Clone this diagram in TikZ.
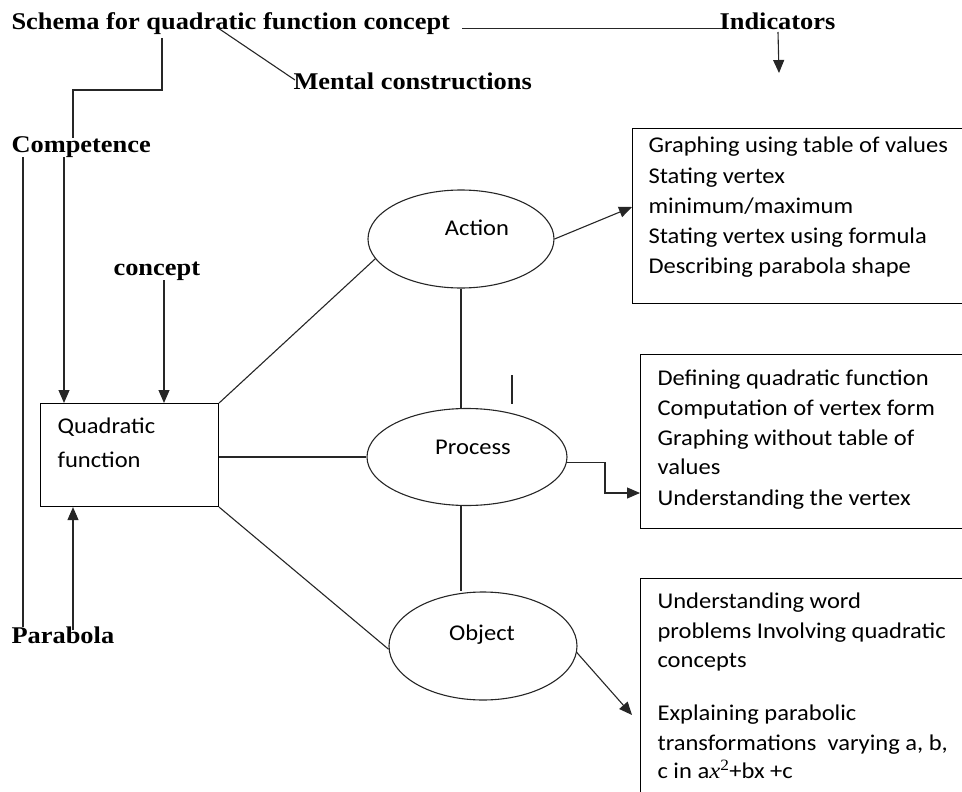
\documentclass[tikz,border=0pt]{standalone}
\usepackage{fontspec}
\newfontfamily\bodyfont{Carlito}[FakeStretch=1.09]
\newfontfamily\headfont{Liberation Serif}[FakeStretch=1.1]
\usetikzlibrary{arrows.meta,shapes.geometric,calc}
\begin{document}
\begin{tikzpicture}[x=1pt,y=-1pt,
  line width=1.1pt, draw=black!85,
  arr/.style={-{Triangle[length=13pt,width=11pt]}},
  head/.style={font=\headfont\bfseries\fontsize{24}{28}\selectfont, inner sep=0pt, anchor=base west},
  body/.style={font=\bodyfont\fontsize{22.5}{30}\selectfont, inner sep=0pt, anchor=base west},
  oval/.style={ellipse, draw, inner sep=0pt},
  rbox/.style={rectangle, draw=black, anchor=north west, inner sep=0pt}]
\useasboundingbox (0,0) rectangle (962,792);
\clip (0,0) rectangle (962,792);

% headings
\node[head] (title) at (11,29.5) {Schema for quadratic function concept};
\node[head] (ind) at (719,30) {Indicators};
\node[head] (mental) at (293,89) {Mental constructions};
\node[head] (comp) at (11,152) {Competence};
\node[head] (concept) at (113,275) {concept};
\node[head] (parab) at (11,643) {Parabola};

% central box
\node[rbox, minimum width=178pt, minimum height=103pt] (qf) at (40,403) {};
\node[body] (qf1) at (57,433) {Quadratic};
\node[body] (qf2) at (57,467) {function};

% ellipses
\node[oval, minimum width=186pt, minimum height=98pt] (action) at (461,239) {};
\node[oval, minimum width=200pt, minimum height=97pt] (process) at (467,457) {};
\node[oval, minimum width=188pt, minimum height=108pt] (object) at (483,646) {};
\node[body, anchor=base] (actiont) at (477,235) {Action};
\node[body, anchor=base] (processt) at (473,454) {Process};
\node[body, anchor=base] (objectt) at (482,640) {Object};

% indicator boxes
\node[rbox, minimum width=350pt, minimum height=175pt] (box1) at (632,128) {};
\node[rbox, minimum width=340pt, minimum height=174pt] (box2) at (640,354) {};
\node[rbox, minimum width=340pt, minimum height=240pt] (box3) at (640,578) {};

\node[body] (b11) at (648,153) {Graphing using table of values};
\node[body] (b12) at (648,183) {Stating vertex};
\node[body] (b13) at (648,213) {minimum/maximum};
\node[body] (b14) at (648,243) {Stating vertex using formula};
\node[body] (b15) at (648,273) {Describing parabola shape};

\node[body] (b21) at (657,385) {Defining quadratic function};
\node[body] (b22) at (657,415) {Computation of vertex form};
\node[body] (b23) at (657,445) {Graphing without table of};
\node[body] (b24) at (657,474) {values};
\node[body] (b25) at (657,505) {Understanding the vertex};

\node[body] (b31) at (657,608) {Understanding word};
\node[body] (b32) at (657,638) {problems Involving quadratic};
\node[body] (b33) at (657,667) {concepts};
\node[body] (b34) at (657,720) {Explaining parabolic};
\node[body] (b35) at (657,750) {transformations\ \ varying a, b,};
\node[body] (b36) at (657,778) {c in a{\headfont\itshape x}\textsuperscript{\headfont 2}+bx +c};

% coordinates for free ends
\coordinate (u1) at (462,28.5);
\coordinate (u2) at (722,28.5);
\coordinate (i1) at (778,32);
\coordinate (i2) at (779,73);
\coordinate (m1) at (218,28);
\coordinate (m2) at (295,80);
\coordinate (k1) at (162,38);
\coordinate (k2) at (162,90);
\coordinate (k3) at (73,90);
\coordinate (k4) at (73,138);
\coordinate (c1) at (64,157);
\coordinate (cpt) at (164,280);
\coordinate (pb) at (73,630);
\coordinate (l1) at (23,157);
\coordinate (l2) at (23,627);
\coordinate (t1) at (512,375);
\coordinate (t2) at (512,404);
\coordinate (a1) at (632,207);
\coordinate (p1) at (640,493);
\coordinate (o1) at (632,715);

% top connectors
\draw (u1) -- (u2);
\draw[arr] (i1) -- (i2);
\draw (m1) -- (m2);
\draw (k1) -- (k2) -- (k3) -- (k4);
\draw[arr] (c1) -- (c1 |- qf.north);
\draw[arr] (cpt) -- (cpt |- qf.north);
\draw[arr] (pb) -- (pb |- qf.south);
\draw (l1) -- (l2);

% central connectors
\draw (qf.north east) -- (action.193);
\draw (qf.east |- process.west) -- (process.west);
\draw (qf.south east) -- (object.182);
\draw (action.south) -- (action.south |- process.north);
\draw (process.south -| action.south) -- (object.north -| action.south);
\draw (t1) -- (t2);

% to indicators
\draw[arr] (action.east) -- (a1);
\draw[arr] (process.357) -- ++(38,0) |- (p1);
\draw[arr] (object.356) -- (o1);
\end{tikzpicture}
\end{document}
